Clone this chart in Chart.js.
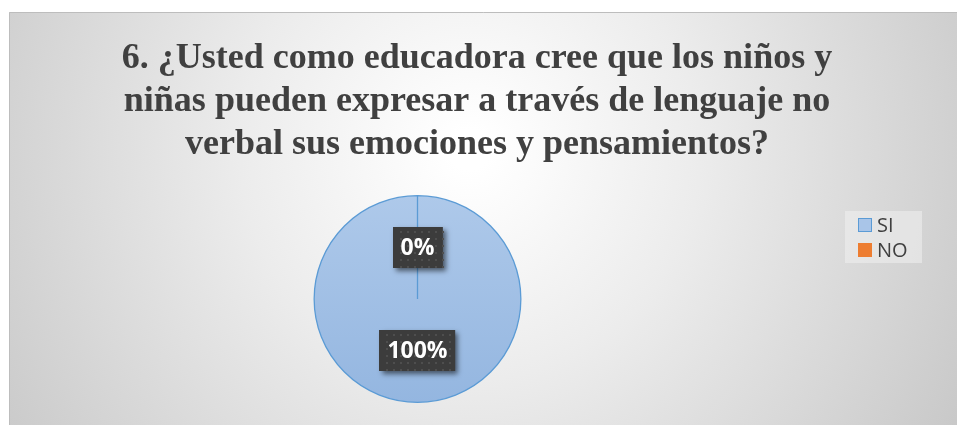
<!DOCTYPE html>
<html>
<head>
<meta charset="utf-8">
<script src="https://cdn.jsdelivr.net/npm/chart.js@4.4.1/dist/chart.umd.min.js"></script>
<style>
  html, body { margin: 0; padding: 0; background: #fff; }
  #wrap { width: 957px; height: 425px; position: relative; }
</style>
</head>
<body>
<div id="wrap"><canvas id="chart-result"></canvas></div>
<script>
const categories = ['SI', 'NO'];
const values = [100, 0];
const pctLabels = ['100%', '0%'];
const titleLines = [
    '6. ¿Usted como educadora cree que los niños y',
    'niñas pueden expresar a través de lenguaje no',
    'verbal sus emociones y pensamientos?'
];

const ctx = document.getElementById('chart-result');

// fondo gris con degradado radial
const backgroundPlugin = {
    id: 'fondo',
    beforeDraw(chart) {
        const c = chart.ctx;
        c.save();
        const g = c.createRadialGradient(470, 150, 20, 470, 150, 620);
        g.addColorStop(0, '#ffffff');
        g.addColorStop(0.35, '#ececec');
        g.addColorStop(1, '#c2c2c2');
        c.fillStyle = g;
        c.fillRect(9, 12, 948, 413);
        c.strokeStyle = '#bdbdbd';
        c.lineWidth = 1;
        c.beginPath();
        c.moveTo(9.5, 425);
        c.lineTo(9.5, 12.5);
        c.lineTo(957, 12.5);
        c.stroke();
        c.restore();
    }
};

// titulo centrado sobre todo el grafico
const titlePlugin = {
    id: 'titulo',
    afterDraw(chart) {
        const c = chart.ctx;
        c.save();
        c.font = 'bold 36px "Liberation Serif", "Times New Roman", serif';
        c.fillStyle = '#404040';
        c.textAlign = 'center';
        c.textBaseline = 'alphabetic';
        titleLines.forEach((line, i) => {
            c.fillText(line, 477, 68 + i * 43);
        });
        c.restore();
    }
};

// leyenda a la derecha
const legendPlugin = {
    id: 'leyenda',
    afterDraw(chart) {
        const c = chart.ctx;
        const ds = chart.data.datasets[0];
        c.save();
        c.fillStyle = 'rgba(240,240,240,0.55)';
        c.fillRect(845, 211, 77, 52);
        c.font = '20px "Open Sans", sans-serif';
        c.textBaseline = 'middle';
        chart.data.labels.forEach((lab, i) => {
            const y = 218 + i * 25;
            c.fillStyle = ds.legendColor[i];
            c.fillRect(858, y, 14, 14);
            if (i === 0) {
                c.strokeStyle = '#5b9bd5';
                c.lineWidth = 1;
                c.strokeRect(858.5, y + 0.5, 13, 13);
            }
            c.fillStyle = '#404040';
            c.fillText(lab, 877, y + 8);
        });
        c.restore();
    }
};

// etiquetas de porcentaje en cajas oscuras
const labelPlugin = {
    id: 'etiquetas',
    afterDatasetsDraw(chart) {
        const c = chart.ctx;
        const meta = chart.getDatasetMeta(0);
        c.save();
        c.font = 'bold 23px "Open Sans", sans-serif';
        c.textAlign = 'center';
        c.textBaseline = 'middle';
        meta.data.forEach((arc, i) => {
            const p = arc.tooltipPosition();
            const txt = pctLabels[i];
            const w = c.measureText(txt).width + 16;
            const h = 41;
            const x0 = Math.round(p.x - w / 2), y0 = Math.round(p.y - h / 2);
            c.save();
            c.shadowColor = 'rgba(0,0,0,0.55)';
            c.shadowBlur = 5;
            c.shadowOffsetX = 3;
            c.shadowOffsetY = 3;
            c.fillStyle = '#3c3c3c';
            c.fillRect(x0, y0, w, h);
            c.restore();
            c.fillStyle = '#4e4e4e';
            for (let yy = y0 + 4; yy < y0 + h; yy += 7) {
                for (let xx = x0 + 4 + ((yy - y0) % 14 ? 3 : 0); xx < x0 + w; xx += 7) {
                    c.fillRect(xx, yy, 2, 2);
                }
            }
            c.fillStyle = '#ffffff';
            c.fillText(txt, p.x, p.y + 1);
        });
        c.restore();
    }
};

const chart = new Chart(ctx, {
    type: 'pie',
    data: {
        labels: categories,
        datasets: [{
            data: values,
            backgroundColor: (context) => {
                const area = context.chart.chartArea;
                if (!area) return '#a5c2e6';
                if (context.dataIndex === 1) return '#ed7d31';
                const g = context.chart.ctx.createLinearGradient(0, area.top, 0, area.bottom);
                g.addColorStop(0, '#aec9ea');
                g.addColorStop(1, '#94b6e0');
                return g;
            },
            legendColor: ['#a9c5e8', '#ed7d31'],
            borderColor: ['#5b9bd5', '#ed7d31'],
            borderWidth: [1.3, 0]
        }]
    },
    options: {
        responsive: true,
        maintainAspectRatio: false,
        animation: false,
        layout: {
            padding: { left: 313, right: 435, top: 195, bottom: 22 }
        },
        plugins: {
            legend: { display: false },
            tooltip: { enabled: false },
            title: { display: false }
        }
    },
    plugins: [backgroundPlugin, labelPlugin, legendPlugin, titlePlugin]
});
</script>
</body>
</html>
